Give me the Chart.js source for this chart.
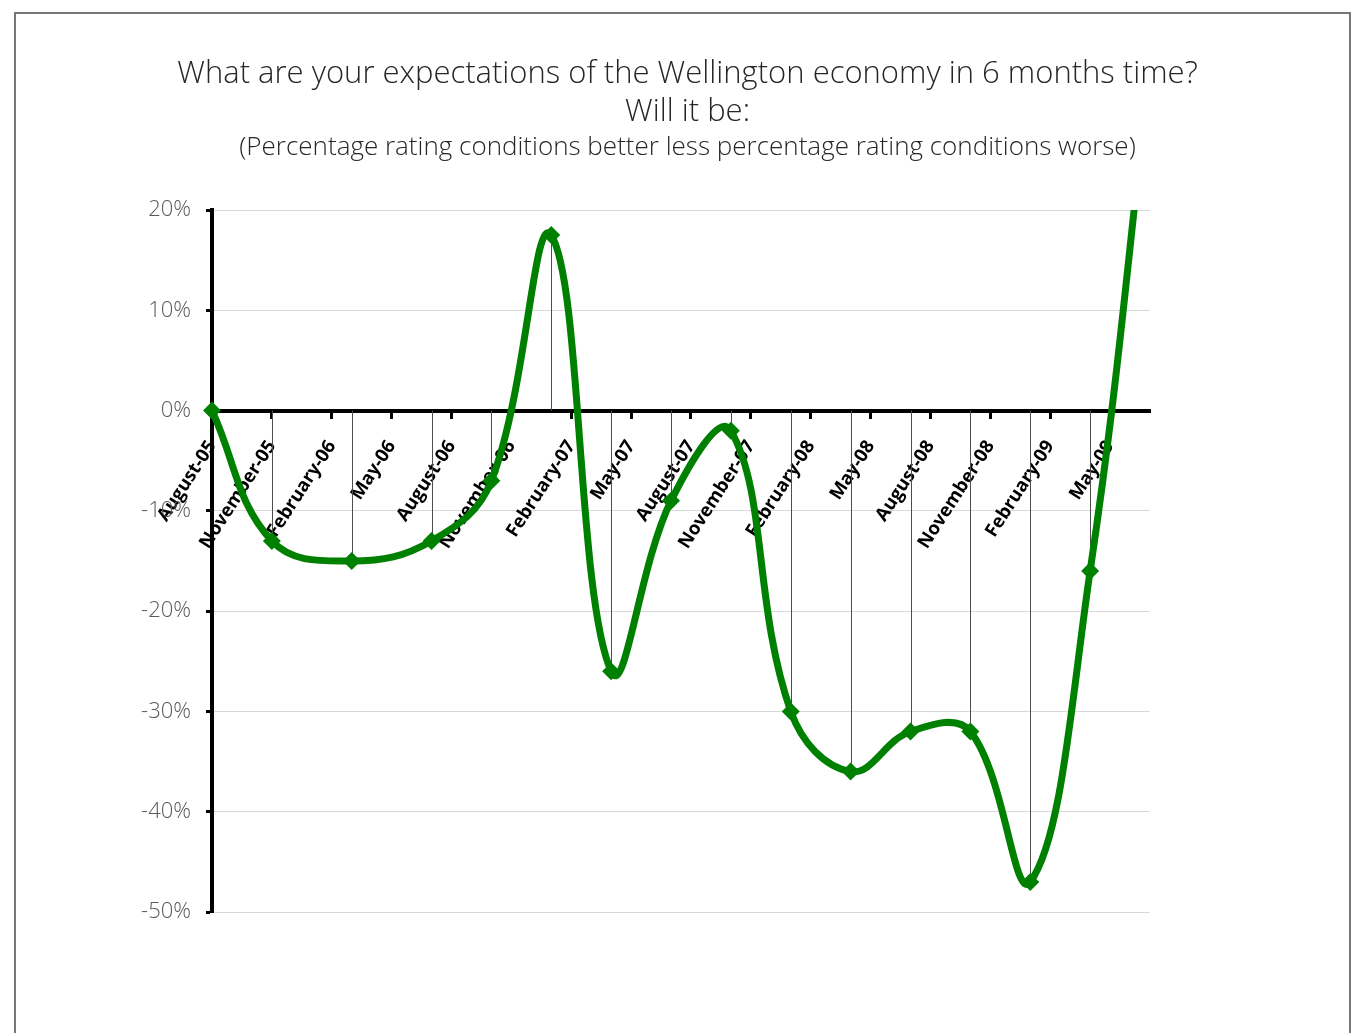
<!DOCTYPE html>
<html>
<head>
<meta charset="utf-8">
<script src="https://cdn.jsdelivr.net/npm/chart.js@4"></script>
<style>
  html, body { margin: 0; padding: 0; background: #fff; }
  #frame { position: absolute; left: 14px; top: 12px; width: 1337px; height: 1030px; border: 2px solid #777; box-sizing: border-box; }
  #wrap { position: absolute; left: 0; top: 0; width: 1353px; height: 1033px; }
</style>
</head>
<body>
<div id="frame"></div>
<div id="wrap"><canvas id="chart"></canvas></div>
<script>
// months counted from August 2005
const surveyMonths = [0, 3, 7, 11, 14, 17, 20, 23, 26, 29, 32, 35, 38, 41, 44, 47];
const netBalance = [0, -13, -15, -13, -7, 17.5, -26, -9, -2, -30, -36, -32, -32, -47, -16, 34];

const tickMonths = [0, 3, 6, 9, 12, 15, 18, 21, 24, 27, 30, 33, 36, 39, 42, 45];
const tickLabels = [
  'August-05', 'November-05', 'February-06', 'May-06',
  'August-06', 'November-06', 'February-07', 'May-07',
  'August-07', 'November-07', 'February-08', 'May-08',
  'August-08', 'November-08', 'February-09', 'May-09'
];

Chart.defaults.font.family = '"Open Sans", sans-serif';

// vertical drop lines from each point to the 0% axis
const dropLines = {
  id: 'dropLines',
  beforeDatasetsDraw(chart) {
    const { ctx, chartArea, scales } = chart;
    const y0 = scales.y.getPixelForValue(0);
    ctx.save();
    ctx.beginPath();
    ctx.rect(chartArea.left, chartArea.top, chartArea.right - chartArea.left, chartArea.bottom - chartArea.top);
    ctx.clip();
    ctx.strokeStyle = '#4d4d4d';
    ctx.lineWidth = 1;
    surveyMonths.forEach((m, i) => {
      const x = Math.round(scales.x.getPixelForValue(m)) + 0.5;
      const y = scales.y.getPixelForValue(netBalance[i]);
      ctx.beginPath();
      ctx.moveTo(x, y0);
      ctx.lineTo(x, y);
      ctx.stroke();
    });
    ctx.restore();
  }
};

const ctx = document.getElementById('chart').getContext('2d');
const chart = new Chart(ctx, {
  type: 'line',
  data: {
    datasets: [{
      data: surveyMonths.map((m, i) => ({ x: m, y: netBalance[i] })),
      borderColor: '#008000',
      backgroundColor: '#008000',
      borderWidth: 7,
      tension: 0.4,
      pointStyle: 'rectRot',
      pointRadius: 9,
      pointBorderWidth: 0,
      clip: { left: 12, top: 0, right: 0, bottom: 12 },
    }],
  },
  options: {
    responsive: true,
    maintainAspectRatio: false,
    animation: false,
    layout: { padding: { left: 22, right: 0, top: 0, bottom: 121 } },
    plugins: {
      legend: { display: false },
      tooltip: { enabled: false },
      title: {
        display: true,
        text: ['What are your expectations of the Wellington economy in 6 months time?', 'Will it be:'],
        color: '#262626',
        font: { size: 31, weight: 300, lineHeight: 1.226 },
        padding: { top: 55, bottom: 1.4 },
      },
      subtitle: {
        display: true,
        text: '(Percentage rating conditions better less percentage rating conditions worse)',
        color: '#262626',
        font: { size: 26, weight: 300, lineHeight: 1.2 },
        padding: { top: 0, bottom: 46.4 },
      },
    },
    scales: {
      x: {
        type: 'linear',
        position: { y: 0 },
        min: 0,
        max: 47,
        afterBuildTicks: (scale) => {
          scale.ticks = tickMonths.map((v) => ({ value: v }));
        },
        grid: { drawOnChartArea: false, tickLength: 6, tickColor: '#000', tickWidth: 3 },
        border: { color: '#000', width: 4 },
        ticks: {
          autoSkip: false,
          maxRotation: 57,
          minRotation: 57,
          padding: 20,
          color: '#000',
          font: { size: 18.5, weight: 'bold' },
          callback: (v, i) => tickLabels[i],
        },
      },
      y: {
        min: -50,
        max: 20,
        afterFit: (scale) => { scale.width = 190; },
        grid: { color: '#d9d9d9', tickLength: 6, tickColor: '#000', tickWidth: 3 },
        border: { color: '#000', width: 4 },
        ticks: {
          stepSize: 10,
          color: '#595959',
          padding: 15,
          font: { size: 22, weight: 300 },
          callback: (v) => v + '%',
        },
      },
      spacer: {
        position: 'right',
        afterFit: (scale) => { scale.width = 203; },
        grid: { display: false },
        border: { display: false },
        ticks: { display: false },
      },
    },
  },
  plugins: [dropLines],
});
</script>
</body>
</html>
